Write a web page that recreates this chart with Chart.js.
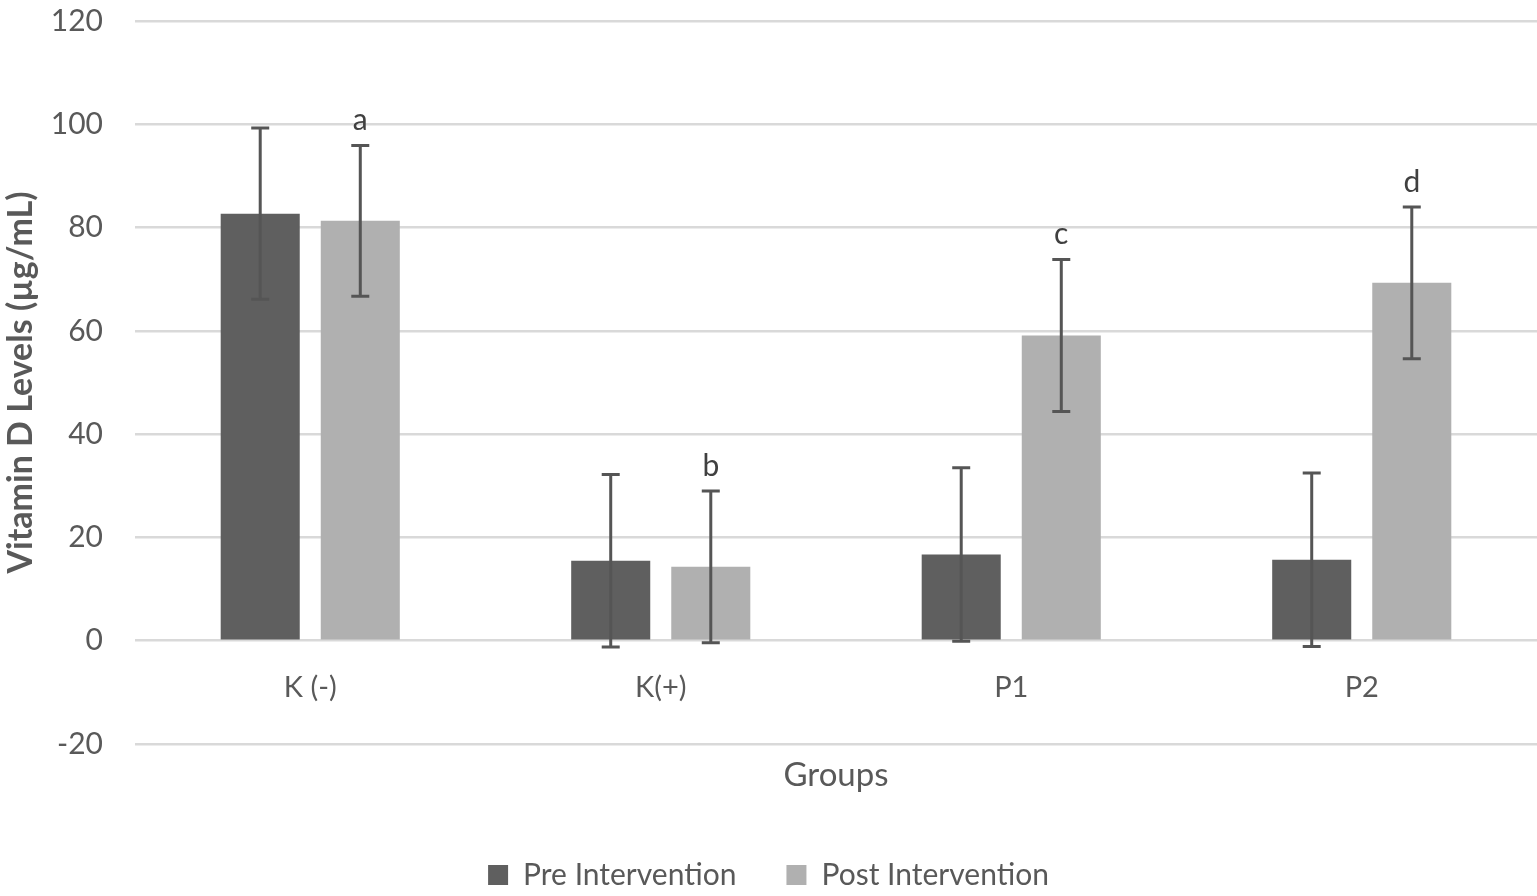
<!DOCTYPE html>
<html>
<head>
<meta charset="utf-8">
<script src="https://cdn.jsdelivr.net/npm/chart.js@4"></script>
<style>
  html, body { margin: 0; padding: 0; background: #fff; }
  #wrap { width: 1537px; height: 896px; }
</style>
</head>
<body>
<div id="wrap"><canvas id="myChart"></canvas></div>
<script>
// Datos del gráfico
var groups = ['K (-)', 'K(+)', 'P1', 'P2'];
var preValues = [82.7, 15.5, 16.7, 15.7];
var postValues = [81.3, 14.3, 59.1, 69.3];
var preErrors = [16.6, 16.7, 16.8, 16.8];
var postErrors = [14.6, 14.7, 14.7, 14.7];
var postLetters = ['a', 'b', 'c', 'd'];
var yTicks = [-20, 0, 20, 40, 60, 80, 100, 120];

var textColor = '#595959';
var fontName = 'Lato';

// Barras de error y letras sobre las barras
var errorBars = {
    id: 'errorBars',
    afterDatasetsDraw: function (chart) {
        var ctx = chart.ctx;
        var yScale = chart.scales.y;
        var errs = [preErrors, postErrors];
        ctx.save();
        ctx.strokeStyle = '#555555';
        ctx.lineWidth = 3;
        chart.data.datasets.forEach(function (ds, i) {
            var meta = chart.getDatasetMeta(i);
            meta.data.forEach(function (bar, j) {
                var v = ds.data[j];
                var e = errs[i][j];
                var x = bar.x;
                var top = yScale.getPixelForValue(v + e);
                var bot = yScale.getPixelForValue(v - e);
                ctx.beginPath();
                ctx.moveTo(x, top); ctx.lineTo(x, bot);
                ctx.moveTo(x - 9, top); ctx.lineTo(x + 9, top);
                ctx.moveTo(x - 9, bot); ctx.lineTo(x + 9, bot);
                ctx.stroke();
                if (i === 1) {
                    ctx.fillStyle = '#404040';
                    ctx.font = '30px ' + fontName;
                    ctx.textAlign = 'center';
                    ctx.textBaseline = 'middle';
                    ctx.fillText(postLetters[j], x, top - 25);
                }
            });
        });
        ctx.restore();
    }
};

var chart = document.getElementById('myChart').getContext('2d');
var myChart = new Chart(chart, {
    type: 'bar',
    data: {
        labels: groups,
        datasets: [
            {
                label: 'Pre Intervention',
                data: preValues,
                backgroundColor: '#5f5f5f',
                categoryPercentage: 0.571,
                barPercentage: 0.79
            },
            {
                label: 'Post Intervention',
                data: postValues,
                backgroundColor: '#b0b0b0',
                categoryPercentage: 0.571,
                barPercentage: 0.79
            }
        ]
    },
    options: {
        responsive: true,
        maintainAspectRatio: false,
        animation: false,
        layout: { padding: { top: 21, left: 0, right: 0, bottom: -4 } },
        plugins: {
            tooltip: { enabled: false },
            legend: {
                position: 'bottom',
                labels: {
                    color: textColor,
                    font: { family: fontName, size: 30 },
                    boxWidth: 20,
                    boxHeight: 20,
                    padding: 50
                }
            }
        },
        scales: {
            x: {
                grid: { display: false },
                border: { display: false },
                ticks: {
                    color: textColor,
                    font: { family: fontName, size: 29 },
                    mirror: true,
                    padding: 39
                },
                title: {
                    display: true,
                    text: 'Groups',
                    color: textColor,
                    font: { family: fontName, size: 33 },
                    padding: { top: 0, bottom: 15 }
                },
                afterFit: function (scale) { scale.height = 66; }
            },
            y: {
                min: -20,
                max: 120,
                afterBuildTicks: function (scale) {
                    scale.ticks = yTicks.map(function (v) { return { value: v }; });
                },
                grid: { color: '#d9d9d9', lineWidth: 2.5, drawTicks: false },
                border: { display: false },
                ticks: {
                    color: textColor,
                    font: { family: fontName, size: 30 },
                    padding: 32
                },
                title: {
                    display: true,
                    text: 'Vitamin D Levels (µg/mL)',
                    color: textColor,
                    font: { family: fontName, size: 34, weight: 'bold' },
                    padding: { top: 1, bottom: 0 }
                },
                afterFit: function (scale) {
                    scale.width = 135;
                    scale.paddingTop = 0;
                    scale.paddingBottom = 0;
                }
            }
        }
    },
    plugins: [errorBars]
});
</script>
</body>
</html>
